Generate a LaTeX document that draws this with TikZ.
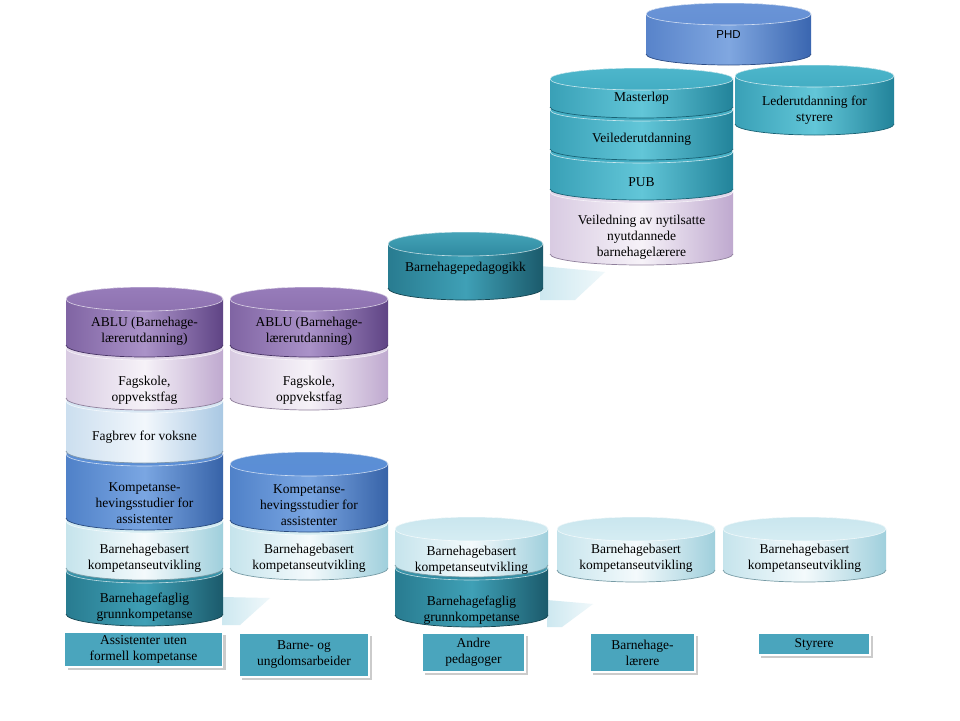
\documentclass[tikz,border=0pt]{standalone}
\usepackage{fontspec}
\setmainfont{Liberation Serif}
\newfontfamily\phdfont{Liberation Sans}
\usetikzlibrary{shadows}
% palettes: L light, M mid, D dark, T top
\definecolor{tdkL}{HTML}{3FA0B6}\definecolor{tdkM}{HTML}{2E8AA0}\definecolor{tdkD}{HTML}{1B5A6B}\definecolor{tdkT}{HTML}{45A3B8}
\definecolor{cylL}{HTML}{F4FAFC}\definecolor{cylM}{HTML}{D6EDF3}\definecolor{cylD}{HTML}{9FCFDC}\definecolor{cylT}{HTML}{C9E6EE}
\definecolor{bluL}{HTML}{7AA6E2}\definecolor{bluM}{HTML}{5A8ED6}\definecolor{bluD}{HTML}{3763A8}\definecolor{bluT}{HTML}{5C8FD5}
\definecolor{pblL}{HTML}{F2F7FC}\definecolor{pblM}{HTML}{DAE8F4}\definecolor{pblD}{HTML}{A9C8E3}\definecolor{pblT}{HTML}{D0E3F1}
\definecolor{lavL}{HTML}{F6F2F8}\definecolor{lavM}{HTML}{E3D9EA}\definecolor{lavD}{HTML}{BFA9CF}\definecolor{lavT}{HTML}{DCD0E6}
\definecolor{purL}{HTML}{AA92C8}\definecolor{purM}{HTML}{8E72B0}\definecolor{purD}{HTML}{5F4485}\definecolor{purT}{HTML}{977CBA}
\definecolor{teaL}{HTML}{62C6D8}\definecolor{teaM}{HTML}{43ADC3}\definecolor{teaD}{HTML}{22839A}\definecolor{teaT}{HTML}{4DB6CB}
\definecolor{phbL}{HTML}{80A7E0}\definecolor{phbM}{HTML}{6590D5}\definecolor{phbD}{HTML}{3A66B0}\definecolor{phbT}{HTML}{6A94D6}
\definecolor{labfill}{HTML}{4AA5BD}
\definecolor{shad}{HTML}{CDE8F0}
\tikzset{
  cyltext/.style={align=center,font=\fontsize{13.5}{16}\selectfont,inner sep=0pt},
  labbox/.style={draw=white,line width=1.6pt,fill=labfill,align=center,
    font=\fontsize{13.5}{16}\selectfont,inner sep=0pt,
    drop shadow={shadow xshift=3pt,shadow yshift=-3pt,fill=black!45,opacity=0.45}},
  refl/.style={left color=shad,right color=shad!30!white}
}
% name, cx, ytop, ybot, halfwidth, ry, palette, text, text y
\newcommand\mycyl[9]{%
  \path[left color=#7M!70!#7D, right color=#7D, middle color=#7L]
    (#2-#5,#3+#6) -- (#2-#5,#4-#6)
    arc[start angle=180,end angle=360,x radius=#5pt,y radius=#6pt]
    -- (#2+#5,#3+#6)
    arc[start angle=0,end angle=180,x radius=#5pt,y radius=#6pt] -- cycle;
  \draw[#7D!75!black,line width=0.7pt] (#2-#5,#4-#6)
    arc[start angle=180,end angle=360,x radius=#5pt,y radius=#6pt];
  \path[top color=#7T, bottom color=#7M, draw=white, draw opacity=0.7, line width=0.6pt]
    (#2,#3+#6) ellipse[x radius=#5pt,y radius=#6pt];
  \node[cyltext] (#1) at (#2,#9) {#8};
}
\begin{document}
\begin{tikzpicture}[x=1pt,y=-1pt]
\fill[white] (0,0) rectangle (960,720);
\useasboundingbox (0,0) rectangle (960,720);
% reflections
\path[refl] (222,597) -- (270,598) -- (240,625) -- (222,625) -- cycle;
\path[refl] (547,600) -- (593,604) -- (562,627) -- (547,627) -- cycle;
\path[refl] (540,266) -- (605,272) -- (575,300) -- (540,300) -- cycle;
% column 1
\mycyl{c1a}{144.5}{559}{626}{78.5}{12}{tdk}{Barnehagefaglig\\grunnkompetanse}{607}
\mycyl{c1b}{144.5}{509}{580}{78.5}{12}{cyl}{Barnehagebasert\\kompetanseutvikling}{558}
\mycyl{c1c}{144.5}{442}{530}{78.5}{12}{blu}{Kompetanse-\\hevingsstudier for\\assistenter}{503}
\mycyl{c1d}{144.5}{389}{463}{78.5}{12}{pbl}{Fagbrev for voksne}{437}
\mycyl{c1e}{144.5}{336}{410}{78.5}{12}{lav}{Fagskole,\\oppvekstfag}{390}
\mycyl{c1f}{144.5}{287}{357}{78.5}{12}{pur}{ABLU (Barnehage-\\lærerutdanning)}{331}
% column 2
\mycyl{c2a}{309}{511}{580}{79}{12}{cyl}{Barnehagebasert\\kompetanseutvikling}{558}
\mycyl{c2b}{309}{452}{532}{79}{12}{blu}{Kompetanse-\\hevingsstudier for\\assistenter}{505}
\mycyl{c2c}{309}{336}{410}{79}{12}{lav}{Fagskole,\\oppvekstfag}{390}
\mycyl{c2d}{309}{287}{357}{79}{12}{pur}{ABLU (Barnehage-\\lærerutdanning)}{331}
% column 3
\mycyl{c3a}{471.5}{556}{627}{76.5}{12}{tdk}{Barnehagefaglig\\grunnkompetanse}{610}
\mycyl{c3b}{471.5}{517}{577}{76.5}{12}{cyl}{Barnehagebasert\\kompetanseutvikling}{560}
\mycyl{c3c}{465.5}{232}{300}{77.5}{12}{tdk}{Barnehagepedagogikk}{268}
% columns 4, 5
\mycyl{c4a}{636}{517}{582}{79}{12}{cyl}{Barnehagebasert\\kompetanseutvikling}{558}
\mycyl{c5a}{804.5}{517}{582}{81.5}{12}{cyl}{Barnehagebasert\\kompetanseutvikling}{558}
% top right stack
\mycyl{t1}{641.5}{181}{265}{91.5}{11}{lav}{Veiledning av nytilsatte\\nyutdannede\\barnehagelærere}{237}
\mycyl{t2}{641.5}{141}{200}{91.5}{11}{tea}{PUB}{182}
\mycyl{t3}{641.5}{99}{160}{91.5}{11}{tea}{Veilederutdanning}{139}
\mycyl{t4}{641.5}{68}{118}{91.5}{11}{tea}{Masterløp}{98}
\mycyl{phd}{728.5}{3}{65}{82.5}{11}{phb}{{\phdfont\fontsize{11.5}{14}\selectfont PHD}}{35}
\mycyl{led}{814.5}{65}{135}{79.5}{11}{tea}{Lederutdanning for\\styrere}{110}
% bottom labels
\node[labbox,minimum width=158pt,minimum height=35pt] (l1) at (143.5,649.5) {Assistenter uten\\formell kompetanse};
\node[labbox,minimum width=130pt,minimum height=44pt] (l2) at (304,655) {Barne- og\\ungdomsarbeider};
\node[labbox,minimum width=103pt,minimum height=39pt] (l3) at (473.5,652.5) {Andre\\pedagoger};
\node[labbox,minimum width=105pt,minimum height=39pt] (l4) at (642.5,652.5) {Barnehage-\\lærere};
\node[labbox,minimum width=112pt,minimum height=22pt] (l5) at (814,644) {Styrere};
\end{tikzpicture}
\end{document}
